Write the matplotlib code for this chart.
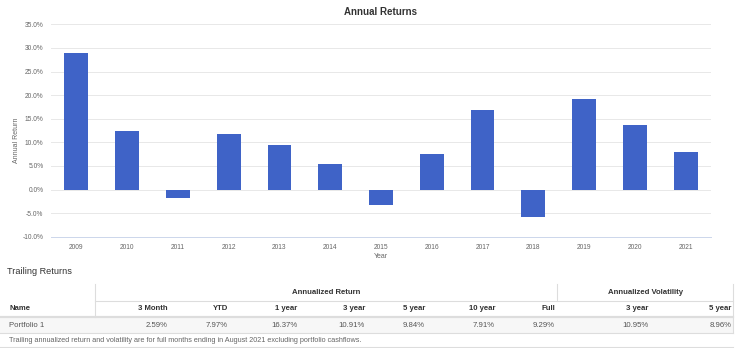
import matplotlib.pyplot as plt
from matplotlib.lines import Line2D
from matplotlib.patches import Rectangle
from matplotlib.ticker import FuncFormatter

plt.rcParams['font.family'] = ['Liberation Sans', 'DejaVu Sans']

# Dane
years = [2009, 2010, 2011, 2012, 2013, 2014, 2015, 2016, 2017, 2018, 2019, 2020, 2021]
returns = [28.9, 12.4, -1.85, 11.7, 9.4, 5.5, -3.2, 7.6, 16.8, -5.8, 19.1, 13.6, 8.0]

col_names = ["3 Month", "YTD", "1 year", "3 year", "5 year", "10 year", "Full", "3 year", "5 year"]
portfolio_name = "Portfolio 1"
portfolio_vals = ["2.59%", "7.97%", "16.37%", "10.91%", "9.84%", "7.91%", "9.29%", "10.95%", "8.96%"]
groups = [("Annualized Return", 7), ("Annualized Volatility", 2)]
footnote = "Trailing annualized return and volatility are for full months ending in August 2021 excluding portfolio cashflows."

W, H = 740, 348


def fx(x):
    return x / W


def fy(y):
    return 1 - y / H


fig = plt.figure(figsize=(W / 100, H / 100), dpi=100)

# Wykres słupkowy
ax = fig.add_axes([fx(51), fy(236.7), fx(711) - fx(51), fy(24.3) - fy(236.7)])
ax.bar(range(len(years)), returns, width=0.47, color='#3f63c7', zorder=3)
ax.set_xlim(-0.5, len(years) - 0.5)
ax.set_ylim(-10, 35)
ax.set_yticks(range(-10, 36, 5))
ax.yaxis.set_major_formatter(FuncFormatter(lambda v, p: f"{v:.1f}%"))
ax.set_xticks(range(len(years)))
ax.set_xticklabels([str(y) for y in years])
ax.tick_params(axis='both', length=0, labelsize=4.8, labelcolor='#666666')
ax.tick_params(axis='x', pad=5)
ax.tick_params(axis='y', pad=5.5)
ax.grid(axis='y', color='#e8e8e8', linewidth=0.7, zorder=0)
for s in ['top', 'right', 'left']:
    ax.spines[s].set_visible(False)
ax.spines['bottom'].set_color('#ccd6eb')
ax.spines['bottom'].set_linewidth(0.7)
ax.set_xlabel("Year", fontsize=5, color='#666666', labelpad=2)
ax.set_title("Annual Returns", fontsize=7, fontweight='bold', color='#333333', pad=7)
# etykieta osi Y ręcznie, żeby nie wychodziła poza obrazek
fig.text(fx(17), fy(140), "Annual Return", fontsize=5, color='#666666',
         rotation=90, ha='center', va='center')

# Tabela
fig.text(fx(7), fy(272), "Trailing Returns", fontsize=6.6, color='#333333', va='center', ha='left')

right_edges = [168, 228, 297, 365, 425, 495, 555, 648, 731]
group_bounds = [(95, 557), (557, 733)]
y_group, y_head, y_row, y_foot = 292.3, 309, 325.3, 341

fig.patches.append(Rectangle((fx(0), fy(333)), fx(733), fy(317) - fy(333),
                             transform=fig.transFigure, facecolor='#f7f7f7', edgecolor='none'))

for (name, n), (x0, x1) in zip(groups, group_bounds):
    fig.text(fx((x0 + x1) / 2), fy(y_group), name, fontsize=5.6, fontweight='bold',
             color='#333333', ha='center', va='center')

fig.text(fx(9), fy(y_head), "Name", fontsize=5.6, fontweight='bold', color='#333333', va='center')
for name, xr in zip(col_names, right_edges):
    fig.text(fx(xr), fy(y_head), name, fontsize=5.6, fontweight='bold', color='#333333',
             ha='right', va='center')

fig.text(fx(9), fy(y_row), portfolio_name, fontsize=5.6, color='#555555', va='center')
for v, xr in zip(portfolio_vals, right_edges):
    fig.text(fx(xr), fy(y_row), v, fontsize=5.6, color='#555555', ha='right', va='center')

fig.text(fx(9), fy(y_foot), footnote, fontsize=5.2, color='#666666', va='center')

lines = [
    ([fx(95), fx(733)], [fy(300.7), fy(300.7)], 0.8),
    ([fx(0), fx(733)], [fy(316.7), fy(316.7)], 1.6),
    ([fx(0), fx(733)], [fy(333), fy(333)], 0.8),
    ([fx(95), fx(95)], [fy(284), fy(316.7)], 0.8),
    ([fx(557), fx(557)], [fy(284), fy(300.7)], 0.8),
    ([fx(733), fx(733)], [fy(284), fy(333)], 0.8),
    ([fx(0), fx(733)], [fy(347), fy(347)], 0.8),
]
for xs, ys, lw in lines:
    fig.add_artist(Line2D(xs, ys, transform=fig.transFigure, color='#dddddd', linewidth=lw))

fig.savefig("out.png", dpi=100)
